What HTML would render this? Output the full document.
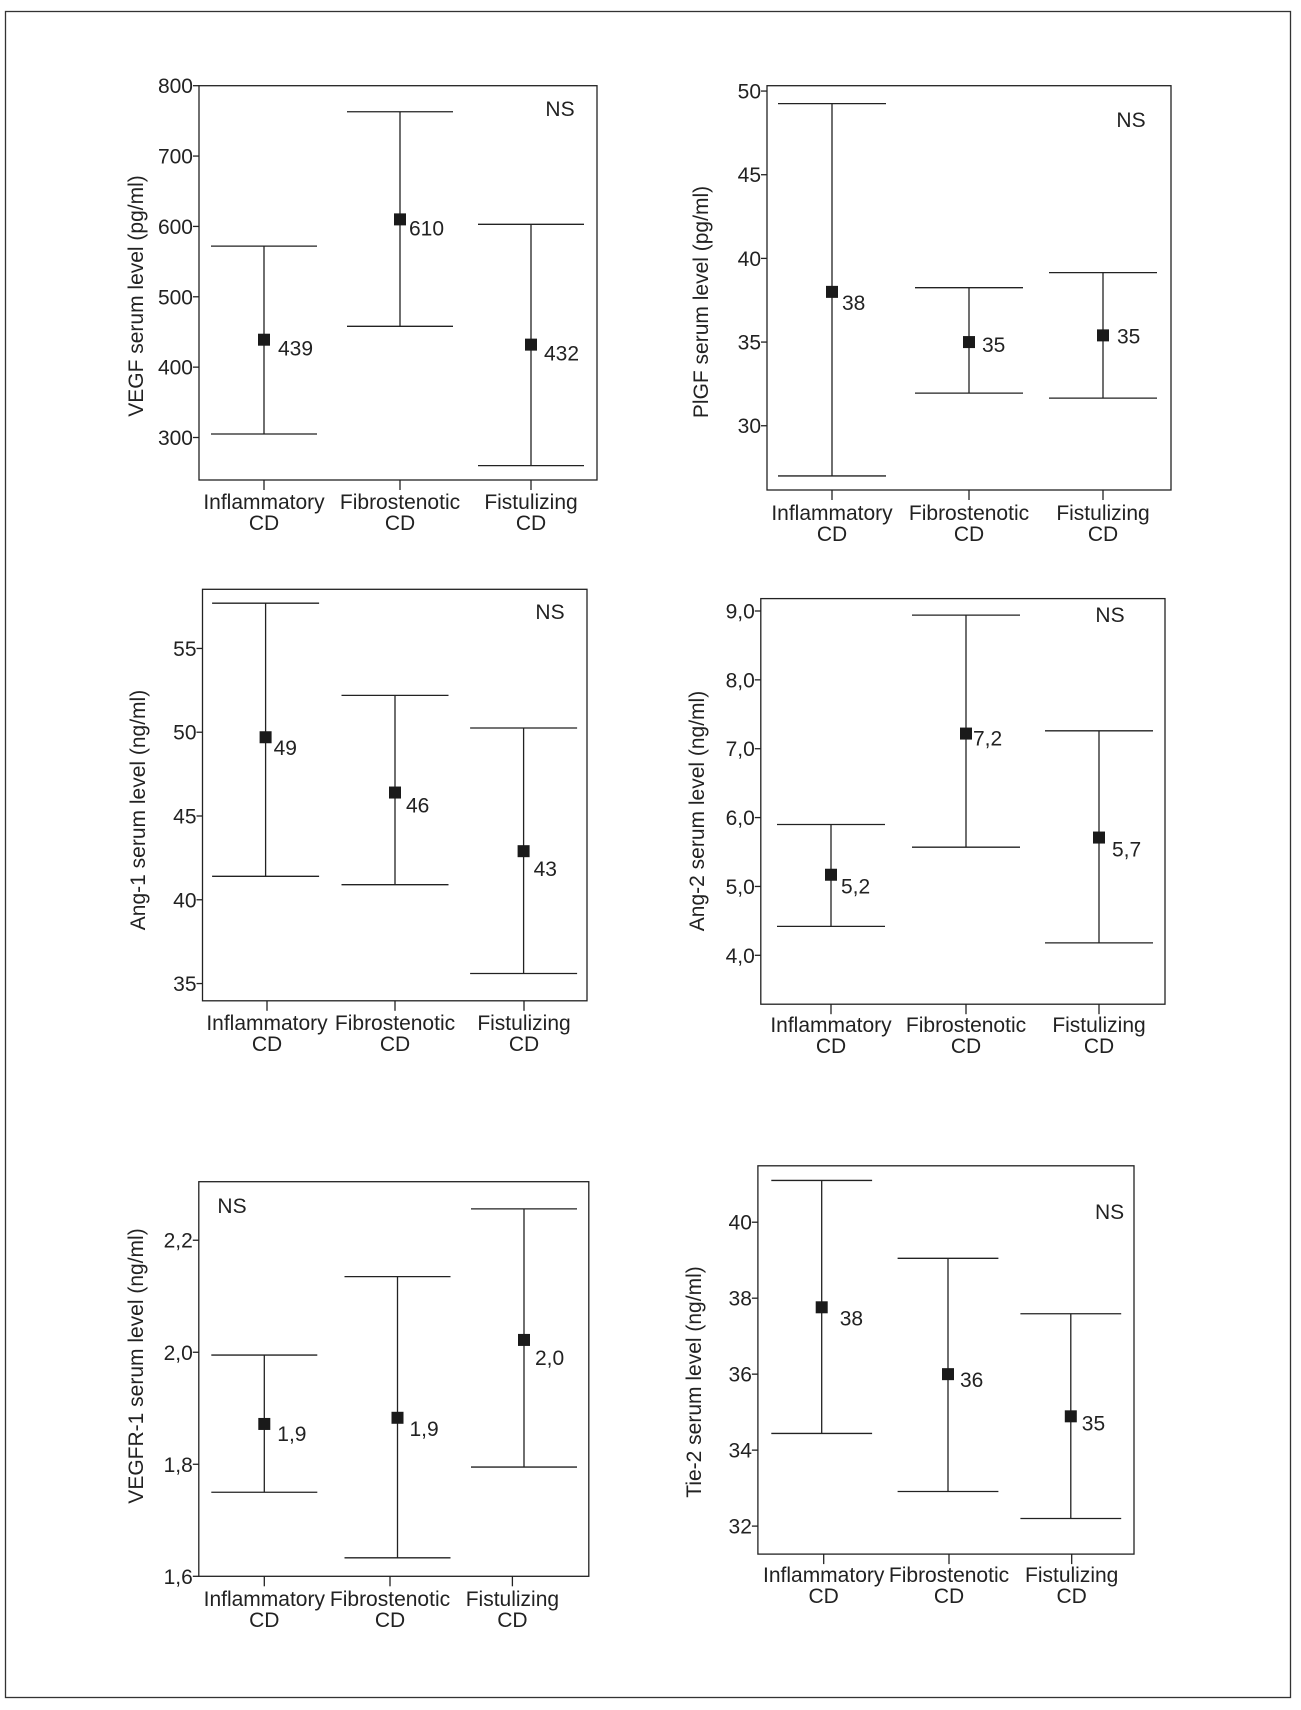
<!DOCTYPE html>
<html><head><meta charset="utf-8"><style>
html,body{margin:0;padding:0;background:#fff;}
svg{display:block;font-family:"Liberation Sans",Arial,sans-serif;}
</style></head><body>
<svg id="fig" width="1301" height="1710" viewBox="0 0 1301 1710" xmlns="http://www.w3.org/2000/svg">
<rect x="5.5" y="11.5" width="1285" height="1686" fill="none" stroke="#333" stroke-width="1.3"/>
</svg>
<script>
// Shared categories
const categories = ["Inflammatory", "Fibrostenotic", "Fistulizing"];

// Chart 1: VEGF
const vegfMeans = [439, 610, 432];
const vegfHigh = [572, 763, 603];
const vegfLow = [305, 458, 260];
const vegfLabels = ["439", "610", "432"];
const vegfTicks = [300, 400, 500, 600, 700, 800];
const vegfTickLabels = ["300", "400", "500", "600", "700", "800"];

// Chart 2: PlGF
const pigfMeans = [38, 35, 35.4];
const pigfHigh = [49.25, 38.25, 39.15];
const pigfLow = [27.0, 31.95, 31.65];
const pigfLabels = ["38", "35", "35"];
const pigfTicks = [30, 35, 40, 45, 50];
const pigfTickLabels = ["30", "35", "40", "45", "50"];

// Chart 3: Ang-1
const ang1Means = [49.7, 46.4, 42.9];
const ang1High = [57.7, 52.2, 50.25];
const ang1Low = [41.4, 40.9, 35.6];
const ang1Labels = ["49", "46", "43"];
const ang1Ticks = [35, 40, 45, 50, 55];
const ang1TickLabels = ["35", "40", "45", "50", "55"];

// Chart 4: Ang-2
const ang2Means = [5.17, 7.22, 5.71];
const ang2High = [5.9, 8.94, 7.26];
const ang2Low = [4.42, 5.57, 4.18];
const ang2Labels = ["5,2", "7,2", "5,7"];
const ang2Ticks = [4, 5, 6, 7, 8, 9];
const ang2TickLabels = ["4,0", "5,0", "6,0", "7,0", "8,0", "9,0"];

// Chart 5: VEGFR-1
const vegfr1Means = [1.872, 1.883, 2.022];
const vegfr1High = [1.995, 2.135, 2.256];
const vegfr1Low = [1.75, 1.633, 1.795];
const vegfr1Labels = ["1,9", "1,9", "2,0"];
const vegfr1Ticks = [1.6, 1.8, 2.0, 2.2];
const vegfr1TickLabels = ["1,6", "1,8", "2,0", "2,2"];

// Chart 6: Tie-2
const tie2Means = [37.76, 36.0, 34.89];
const tie2High = [41.1, 39.05, 37.59];
const tie2Low = [34.44, 32.91, 32.2];
const tie2Labels = ["38", "36", "35"];
const tie2Ticks = [32, 34, 36, 38, 40];
const tie2TickLabels = ["32", "34", "36", "38", "40"];

const NS = "http://www.w3.org/2000/svg";
const svg = document.getElementById('fig');

function el(tag, attrs, parent) {
  const e = document.createElementNS(NS, tag);
  for (const k in attrs) e.setAttribute(k, attrs[k]);
  (parent || svg).appendChild(e);
  return e;
}

function drawChart(cfg, means, highs, lows, labels, ticks, tickLabels) {
  const g = el('g', {});
  
  
  const yScale = v => cfg.y1 - (v - cfg.vmin) / (cfg.vmax - cfg.vmin) * (cfg.y1 - cfg.y0);
  const frame = el('rect', {x: cfg.x0, y: cfg.y0, width: cfg.x1 - cfg.x0, height: cfg.y1 - cfg.y0, fill: 'none', stroke: '#222', 'stroke-width': 1.3}, g);
  
  
  ticks.forEach((t, i) => {
    const y = yScale(t);
    const tk = el('line', {x1: cfg.x0 - 6, x2: cfg.x0, y1: y, y2: y, stroke: '#222', 'stroke-width': 1.3}, g);
    
    
    const tl = el('text', {x: cfg.x0 - 6, y: y + 7.5, 'text-anchor': 'end', 'font-size': 21, fill: '#222'}, g);
    tl.textContent = tickLabels[i];
    
    
  });
  categories.forEach((c, i) => {
    const tx = cfg.tickX[i];
    const xt = el('line', {x1: tx, x2: tx, y1: cfg.y1, y2: cfg.y1 + 10, stroke: '#222', 'stroke-width': 1.3}, g);
    
    
    const l1 = el('text', {x: tx, y: cfg.lab1, 'text-anchor': 'middle', 'font-size': 21, fill: '#222'}, g);
    l1.textContent = c;
    
    
    const l2 = el('text', {x: tx, y: cfg.lab1 + 21, 'text-anchor': 'middle', 'font-size': 21, fill: '#222'}, g);
    l2.textContent = 'CD';
    
    

    const bx = cfg.barX[i];
    const yh = yScale(highs[i]), yl = yScale(lows[i]), ym = yScale(means[i]);
    const v = el('line', {x1: bx, x2: bx, y1: yh, y2: yl, stroke: '#222', 'stroke-width': 1.3}, g);
    
    
    const ch = el('line', {x1: bx - cfg.cap, x2: bx + cfg.cap, y1: yh, y2: yh, stroke: '#222', 'stroke-width': 1.3}, g);
    
    
    const cl = el('line', {x1: bx - cfg.cap, x2: bx + cfg.cap, y1: yl, y2: yl, stroke: '#222', 'stroke-width': 1.3}, g);
    
    
    const m = el('rect', {x: bx - 6, y: ym - 6, width: 12, height: 12, fill: '#1a1a1a'}, g);
    
    
    const vl = el('text', {x: bx + cfg.lx[i], y: ym + cfg.ly[i], 'font-size': 21, fill: '#222'}, g);
    vl.textContent = labels[i];
    
    
  });
  const ns = el('text', {x: cfg.nsX, y: cfg.nsY, 'text-anchor': 'middle', 'font-size': 21, fill: '#222'}, g);
  ns.textContent = 'NS';
  
  
  const tt = el('text', {x: 0, y: 0, 'text-anchor': 'middle', 'font-size': 21, fill: '#222', transform: `translate(${cfg.titleX},${cfg.titleY}) rotate(-90)`}, g);
  tt.textContent = cfg.title;
  
  
}

drawChart({name:'vegf-chart', x0:199, x1:597, y0:85.7, y1:480, vmin:239.6, vmax:800,
  barX:[264,400,531], tickX:[264,400,531], cap:53, lx:[14,9,13], ly:[16,16,16],
  nsX:560, nsY:116, titleX:143, titleY:296, lab1:509, title:'VEGF serum level (pg/ml)'},
  vegfMeans, vegfHigh, vegfLow, vegfLabels, vegfTicks, vegfTickLabels);

drawChart({name:'pigf-chart', x0:767, x1:1171, y0:85.7, y1:490, vmin:26.16, vmax:50.32,
  barX:[832,969,1103], tickX:[832,969,1103], cap:54, lx:[10,13,14], ly:[18,10,8],
  nsX:1131, nsY:127, titleX:708, titleY:302, lab1:520, title:'PlGF serum level (pg/ml)'},
  pigfMeans, pigfHigh, pigfLow, pigfLabels, pigfTicks, pigfTickLabels);

drawChart({name:'ang1-chart', x0:202.5, x1:587, y0:589.3, y1:1000.8, vmin:33.97, vmax:58.53,
  barX:[265.6,395,523.6], tickX:[267,395,524], cap:53.5, lx:[8,11,10], ly:[18,20,25],
  nsX:550, nsY:619, titleX:145, titleY:810, lab1:1030, title:'Ang-1 serum level (ng/ml)'},
  ang1Means, ang1High, ang1Low, ang1Labels, ang1Ticks, ang1TickLabels);

drawChart({name:'ang2-chart', x0:760.8, x1:1165, y0:598.6, y1:1004.2, vmin:3.29, vmax:9.18,
  barX:[831,966,1099], tickX:[831,966,1099], cap:54, lx:[10,7,13], ly:[19,12,19],
  nsX:1110, nsY:622, titleX:704, titleY:811, lab1:1032, title:'Ang-2 serum level (ng/ml)'},
  ang2Means, ang2High, ang2Low, ang2Labels, ang2Ticks, ang2TickLabels);

drawChart({name:'vegfr1-chart', x0:198.8, x1:588.8, y0:1181.7, y1:1576.3, vmin:1.6, vmax:2.3045,
  barX:[264.3,397.5,524], tickX:[264.3,390,512.4], cap:53, lx:[13,12,11], ly:[17,18,25],
  nsX:232, nsY:1213, titleX:143, titleY:1366, lab1:1606, title:'VEGFR-1 serum level (ng/ml)'},
  vegfr1Means, vegfr1High, vegfr1Low, vegfr1Labels, vegfr1Ticks, vegfr1TickLabels);

drawChart({name:'tie2-chart', x0:757.9, x1:1134, y0:1165.8, y1:1554.1, vmin:31.263, vmax:41.485,
  barX:[821.7,948,1070.8], tickX:[823.7,949,1071.7], cap:50.4, lx:[18,12,11], ly:[18,13,14],
  nsX:1109.6, nsY:1219, titleX:701, titleY:1382, lab1:1582, title:'Tie-2 serum level (ng/ml)'},
  tie2Means, tie2High, tie2Low, tie2Labels, tie2Ticks, tie2TickLabels);
</script>
</body></html>
